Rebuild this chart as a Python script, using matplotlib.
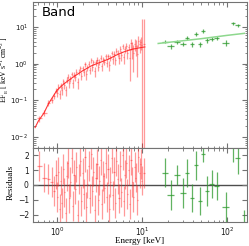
import matplotlib
matplotlib.use("Agg")
import matplotlib.pyplot as plt
from matplotlib.ticker import LogLocator, NullFormatter, MultipleLocator
import numpy as np

# ---------------- data ----------------
# XRT (red) : energies keV, x half-widths, flux, flux error, residuals
red_E = [0.62, 0.71, 0.79, 0.86, 0.92, 0.97,
         1.00, 1.03, 1.07, 1.10, 1.14, 1.18, 1.22, 1.26, 1.30, 1.34,
         1.39, 1.43, 1.48, 1.53, 1.58, 1.64, 1.69, 1.75, 1.81, 1.87,
         1.93, 1.99, 2.06, 2.13, 2.20, 2.27, 2.35, 2.43, 2.51, 2.59,
         2.68, 2.77, 2.86, 2.95, 3.05, 3.15, 3.26, 3.37, 3.48, 3.60,
         3.72, 3.84, 3.97, 4.10, 4.24, 4.38, 4.53, 4.68, 4.84, 5.00,
         5.17, 5.34, 5.52, 5.70, 5.89, 6.09, 6.29, 6.50, 6.72, 6.95,
         7.18, 7.42, 7.67, 7.92, 8.19, 8.46, 8.74, 9.04, 9.34, 9.60,
         9.90, 10.50]
red_Ehw = [0.04, 0.045, 0.04, 0.035, 0.03, 0.025] + [0.016] * 10 + [0.022] * 10 + \
          [0.035] * 10 + [0.05] * 10 + [0.07] * 10 + [0.09] * 10 + [0.12] * 10 + [0.15, 0.3]
red_F = [0.032, 0.045, 0.085, 0.105, 0.135, 0.185,
         0.16, 0.236, 0.15, 0.254, 0.19, 0.33, 0.26, 0.19, 0.36, 0.44,
         0.295, 0.385, 0.53, 0.30, 0.50, 0.44, 0.61, 0.31, 0.59, 0.75,
         0.47, 0.74, 0.59, 0.97, 0.51, 0.78, 1.00, 0.67, 1.22, 0.82,
         1.09, 0.63, 1.08, 1.28, 0.83, 1.13, 1.47, 0.84, 1.30, 1.14,
         1.60, 1.07, 1.61, 0.92, 1.47, 1.99, 1.30, 1.84, 1.23, 2.27,
         1.95, 1.41, 2.49, 1.70, 3.00, 1.49, 2.49, 3.00, 1.90, 2.88,
         1.43, 3.62, 2.60, 1.90, 3.45, 2.97, 1.83, 4.18, 3.35, 3.89,
         3.2, 3.4]
red_Ferr = [0.006, 0.008, 0.014, 0.018, 0.024, 0.03,
            0.038, 0.04, 0.044, 0.048, 0.05, 0.054, 0.058, 0.062, 0.064, 0.068,
            0.072, 0.074, 0.078, 0.084, 0.088, 0.094, 0.098, 0.104, 0.11, 0.114,
            0.12, 0.128, 0.134, 0.14, 0.146, 0.152, 0.158, 0.164, 0.172, 0.178,
            0.184, 0.19, 0.196, 0.2, 0.208, 0.214, 0.22, 0.226, 0.232, 0.238,
            0.246, 0.254, 0.264, 0.272, 0.282, 0.292, 0.302, 0.312, 0.324, 0.344,
            0.44, 0.455, 0.47, 0.485, 0.5, 0.515, 0.53, 0.545, 0.56, 0.575,
            1.1, 1.2, 1.25, 1.3, 1.3, 1.35, 1.4, 1.4, 1.45, 1.5,
            13.0, 13.0]
red_res = [1.3, 0.5, 0.4, 0.2, -0.4, 0.7,
           -0.8, 0.9, -1.6, 0.3, -1.2, 1.1, -0.5, -1.9, 0.6, 1.5,
           -0.9, 0.2, 1.8, -1.4, 0.7, -0.3, 1.2, -2.0, 0.4, 1.6,
           -1.1, 0.8, -0.6, 1.9, -1.5, 0.1, 1.3, -0.9, 2.1, -0.4,
           0.9, -1.7, 0.5, 1.4, -1.0, 0.3, 1.7, -1.3, 0.6, -0.2,
           1.5, -0.8, 1.1, -1.6, 0.2, 1.8, -0.7, 0.9, -1.2, 1.6,
           0.4, -0.9, 1.3, -0.5, 2.0, -1.1, 0.7, 1.5, -0.6, 1.0,
           -1.3, 1.7, 0.2, -0.8, 1.2, 0.5, -1.0, 1.9, 0.8, 1.4,
           0.3, 0.8]
red_model_E = [0.55, 0.6, 0.7, 0.79, 0.9, 1.0, 1.2, 1.5, 1.75, 2.0, 2.5, 3.0,
               3.5, 4.0, 5.0, 6.0, 7.0, 8.0, 10.0, 10.8]
red_model_F = [0.018, 0.027, 0.045, 0.08, 0.13, 0.19, 0.28, 0.41, 0.52, 0.64,
               0.86, 1.02, 1.17, 1.32, 1.72, 2.06, 2.33, 2.52, 2.78, 2.85]

# BAT (green)
grn_E = [18.6, 21.7, 25.8, 30.4, 33.8, 38.8, 43.0, 48.0, 52.4, 58.0,
         66.0, 76.0, 97.0, 117.0, 134.0, 158.0]
grn_Ehw = [1.6, 1.8, 2.0, 2.2, 1.8, 2.6, 2.4, 2.8, 2.8, 3.5,
           4.0, 5.0, 9.0, 6.0, 9.0, 9.0]
grn_F = [4.0, 2.96, 3.9, 3.4, 5.0, 3.4, 6.4, 3.4, 7.9, 4.3,
         4.8, 5.0, 3.7, 12.8, 11.1, -1.0]
grn_Ferr = [0.45, 0.40, 0.40, 0.45, 0.70, 0.50, 0.80, 0.55, 1.0, 0.55,
            0.55, 0.60, 0.75, 1.3, 1.3, 1.0]
grn_res = [0.84, -0.67, 0.67, -0.56, 0.84, -0.89, 1.33, -1.1, 2.07, -0.4,
           0.04, -0.07, -1.5, 2.55, 1.84, -2.7]
grn_reserr = [1.0, 1.0, 0.7, 1.0, 0.95, 0.95, 1.0, 0.95, 0.5, 1.0,
              0.95, 0.95, 1.0, 1.0, 1.1, 1.0]
grn_model_E = [15.5, 30.0, 50.0, 100.0, 160.0]
grn_model_F = [3.55, 4.2, 4.8, 5.9, 6.7]

# ---------------- styling ----------------
RED = "#ff2020"
GRN = "#2e9a2e"
GRN_M = "#8ed88e"
SPINE = "0.45"
SERIF = ["Liberation Serif", "DejaVu Serif"]

fig = plt.figure(figsize=(2.49, 2.46), dpi=100)
W, H = 249.0, 246.0
ax1 = fig.add_axes([33 / W, 1 - 148 / H, 214 / W, 146 / H])
ax2 = fig.add_axes([33 / W, 1 - 222 / H, 214 / W, 74 / H], sharex=ax1)

# top panel
ax1.errorbar(red_E, red_F, xerr=red_Ehw, yerr=red_Ferr, fmt="none",
             ecolor=RED, elinewidth=0.9, alpha=0.45)
ax1.plot(red_model_E, red_model_F, color=RED, lw=0.8, alpha=0.9)
ax1.errorbar(grn_E, grn_F, xerr=grn_Ehw, yerr=grn_Ferr, fmt="none",
             ecolor=GRN, elinewidth=0.9, alpha=0.75)
ax1.plot(grn_model_E, grn_model_F, color=GRN_M, lw=1.1)

ax1.set_xscale("log")
ax1.set_yscale("log")
ax1.set_xlim(0.52, 172)
ax1.set_ylim(0.005, 48)
ax1.text(0.04, 0.925, "Band", transform=ax1.transAxes, fontsize=9.5,
         ha="left", va="center", family="DejaVu Sans")
ax1.set_ylabel(r"EF$_\mathregular{E}$ [ keV s$^\mathregular{-1}$ cm$^\mathregular{-2}$ ]",
               family=SERIF, fontsize=5.6)
ax1.yaxis.set_label_coords(-0.102, 0.535)
plt.setp(ax1.get_xticklabels(), visible=False)

# residual panel
ax2.axhline(0, color="0.3", lw=1.0, zorder=1)
ax2.errorbar(red_E, red_res, xerr=red_Ehw, yerr=1.0, fmt="none",
             ecolor=RED, elinewidth=0.9, alpha=0.45)
ax2.errorbar(grn_E, grn_res, xerr=grn_Ehw, yerr=grn_reserr, fmt="none",
             ecolor=GRN, elinewidth=0.9, alpha=0.75)
ax2.set_ylim(-2.5, 2.5)
ax2.yaxis.set_major_locator(MultipleLocator(1))
ax2.set_ylabel("Residuals", family=SERIF, fontsize=6.5)
ax2.yaxis.set_label_coords(-0.084, 0.54)
ax2.set_xlabel("Energy [keV]", family=SERIF, fontsize=6.5)
ax2.xaxis.set_label_coords(0.5, -0.2)

for ax in (ax1, ax2):
    for s in ax.spines.values():
        s.set_color(SPINE)
        s.set_linewidth(0.8)
    ax.tick_params(which="both", direction="in", top=True, right=True,
                   labelsize=5.5, colors="0.1")
    ax.tick_params(axis="x", pad=2.5)
    ax.tick_params(which="major", length=3.5, color=SPINE)
    ax.tick_params(which="minor", length=1.8, color=SPINE)
ax1.tick_params(axis="y", pad=3.5, labelsize=5.0)
ax2.tick_params(axis="y", pad=3)
ax1.yaxis.set_major_locator(LogLocator(base=10, numticks=10))
ax1.yaxis.set_minor_locator(LogLocator(base=10, subs=np.arange(2, 10), numticks=10))
ax1.yaxis.set_minor_formatter(NullFormatter())

fig.savefig("out.png", dpi=100)
